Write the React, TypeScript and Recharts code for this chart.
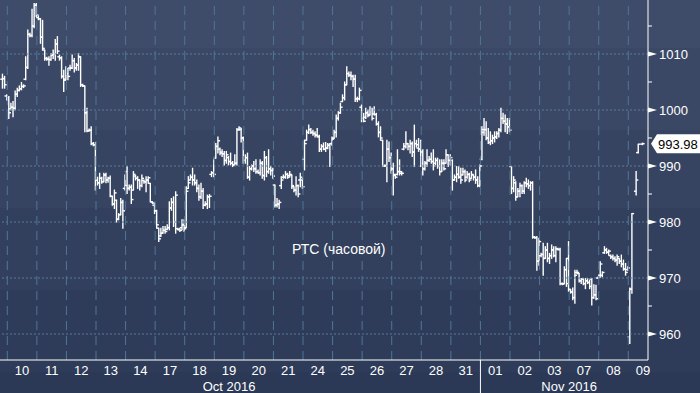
import { ComposedChart, Bar, XAxis, YAxis, ReferenceLine } from "recharts";

// trading days shown (first one is only the tail of Oct 7)
const days = ["07", "10", "11", "12", "13", "14", "17", "18", "19", "20", "21", "24", "25", "26", "27", "28", "31", "01", "02", "03", "07", "08", "09"];
const months = ["Oct 2016", "Nov 2016"];
const monthAnchors = [8.5, 20]; // in day units
const monthStartDay = 17; // Nov 01
const HOURS = 14;
// hour slots of the bars on the last (partial) day
const lastDaySlots = [0, 1, 3, 4, 6];

const priceTicks = [960, 965, 970, 975, 980, 985, 990, 995, 1000, 1005, 1010, 1015];
const gridPrices = [960, 970, 980, 990, 1000, 1010];

// hourly bars [open, high, low, close], one list per day
const sessionBars: number[][][] = [
  [[1005.5, 1006.4, 1003.9, 1005.6], [1005.6, 1006, 1003.9, 1004.5], [1002.5, 1002.7, 1001.8, 1002.2]],
  [[1001.8, 1002.4, 998.5, 999.5], [1000.2, 1001.2, 1000, 1000.5], [1000.5, 1001.5, 998.8, 1000.3], [1000.3, 1003.4, 1000, 1002.8], [1002.8, 1003.9, 1002.4, 1003.5], [1003.5, 1004.3, 1003.4, 1003.8], [1003.8, 1004.9, 1003.6, 1004.2], [1004.2, 1004.5, 1004, 1004.3], [1005.5, 1009.5, 1005.4, 1007.6], [1007.6, 1014.3, 1007.4, 1013.5], [1013.5, 1013.7, 1013.1, 1013.3], [1013.3, 1018, 1013.1, 1015], [1015, 1019, 1014.7, 1018.7], [1018.7, 1019, 1016.7, 1017]],
  [[1016.5, 1016.8, 1016.1, 1016.3], [1016.3, 1016.3, 1011.9, 1013], [1013, 1016, 1010.7, 1011], [1010.7, 1010.7, 1008.9, 1009.2], [1009.2, 1009.4, 1008.9, 1009.1], [1009.1, 1009.5, 1008, 1009], [1009, 1010.1, 1008.9, 1009.8], [1009.8, 1010.7, 1009.2, 1010], [1010, 1012.6, 1008.9, 1011.8], [1011.8, 1013.1, 1010.1, 1010.5], [1009.5, 1009.8, 1008.9, 1009.3], [1009.3, 1009.5, 1005.7, 1006], [1006, 1007.1, 1003.3, 1005.3], [1005.5, 1007.7, 1005.4, 1006.5]],
  [[1006.5, 1007.4, 1005.4, 1006], [1007.5, 1008, 1007.1, 1007.5], [1007.5, 1009.8, 1007.4, 1008.8], [1008.8, 1009.2, 1006.8, 1007.5], [1007.5, 1008.3, 1007.1, 1008], [1008, 1010.1, 1007.1, 1009.5], [1009.5, 1009.5, 1004.2, 1004.5], [1004.5, 1004.6, 1004.2, 1004.3], [1004.3, 1004.3, 996.1, 999.5], [999.5, 1000.3, 996.1, 996.3], [996.3, 996.6, 996.2, 996.4], [996.4, 997, 993.8, 994], [994, 994.2, 993.6, 993.8], [993.8, 994.2, 985.7, 987.5]],
  [[987.5, 988, 986.6, 987], [987, 988.7, 986, 987.8], [987.8, 988, 986.9, 987.2], [987.2, 988.7, 987.2, 988.4], [988.4, 988.7, 987, 987.5], [987.5, 988, 987.1, 987.8], [987.8, 988.2, 984.5, 984.6], [984.6, 984.6, 983, 983.2], [983.2, 985.7, 982.4, 985.2], [983.9, 983.9, 980, 980.5], [980.5, 981.5, 980.4, 981.3], [981.3, 984.2, 981.3, 983.5], [983.5, 983.9, 978.9, 982], [986, 988.4, 985.7, 986.5]],
  [[989, 989.9, 985.1, 986], [986, 986.6, 985.7, 986.2], [986.2, 986.6, 983.3, 984], [985.7, 989, 985.7, 988.5], [988.2, 988.3, 987.5, 987.8], [987.8, 988.1, 986, 987.5], [987.5, 987.5, 985.7, 986.5], [986.5, 988.4, 986.3, 987.8], [987.4, 987.5, 986.9, 987.2], [987.2, 988.1, 985.4, 987.5], [987.5, 988.1, 986.9, 987.9], [986.9, 986.9, 983.6, 983.6], [983.6, 983.6, 983.3, 983.4], [983, 983.3, 981.5, 982]],
  [[982, 982.1, 978.9, 979.5], [978.9, 978.9, 976.5, 977], [977.5, 978.9, 977.4, 978], [978, 979.2, 978, 978.5], [978.5, 979.2, 978, 978.3], [978.7, 979.5, 978.6, 979], [979, 983.6, 978.6, 982.5], [982.5, 984.2, 982.1, 983.5], [983.5, 984.5, 979.2, 980], [980, 985.4, 978, 984.8], [978.8, 978.9, 978.6, 978.7], [978.6, 978.9, 978.3, 978.5], [979, 980.4, 978.6, 979.5], [979.5, 980.4, 978.3, 978.8]],
  [[979, 986.3, 979, 985.5], [986, 988.1, 986, 987], [987.5, 988.4, 987.5, 988], [988, 989.6, 986.6, 987.5], [987.5, 988.4, 986.6, 987], [987, 987.5, 985.4, 986], [986, 986.6, 983.9, 984.5], [984.5, 986.9, 984.2, 985.5], [985.5, 986, 982.4, 983], [983, 983.6, 982.9, 983.2], [983.2, 984.8, 982.4, 984.5], [984.5, 984.9, 982.6, 984.6], [988.5, 989, 988.1, 988.8], [988.8, 991.1, 988.1, 988.5]],
  [[991.4, 994, 991.4, 993.5], [993.5, 995.2, 992.3, 994.5], [993, 993.2, 992, 992.3], [992.5, 992.9, 991.7, 992.2], [992.2, 992.6, 990.2, 991], [991, 992.6, 990.5, 992], [991.5, 991.7, 990.2, 990.8], [990.8, 992.3, 990.2, 990.5], [990.5, 990.8, 989.9, 990.2], [990.2, 992, 990.2, 990.5], [990.5, 996.7, 990.2, 996.5], [996.5, 997, 996.4, 996.8], [996.5, 996.7, 994.3, 995], [995, 995.2, 990.5, 991]],
  [[991, 992, 990.5, 991.5], [991.5, 992.3, 987.8, 988], [988, 989.9, 987.5, 989.5], [989.5, 990.2, 989.3, 990], [990, 990.8, 989, 989.5], [989.5, 991.1, 988.7, 989], [989, 989.3, 988.7, 988.8], [988.8, 991.1, 988.4, 990.5], [990.5, 990.8, 987.8, 988.3], [988.3, 992.6, 987.5, 991.5], [991.5, 991.7, 988.1, 989], [989, 992.9, 988.7, 989.5], [989.5, 989.9, 988.4, 989.2], [989.2, 989.6, 987.8, 988.2]],
  [[986.6, 986.6, 982.7, 983], [983, 984.2, 982.7, 983.2], [983.2, 983.9, 982.4, 983.5], [986.5, 988.1, 986, 987.5], [988, 988.4, 987.8, 988], [988, 989, 987.8, 988.5], [988.5, 988.7, 987.8, 988], [988.3, 989, 988.1, 988.5], [988.4, 988.4, 986, 986.5], [986.3, 986.3, 985.4, 985.7], [985.7, 988.1, 984.8, 986.5], [986.5, 986.6, 984.5, 985], [987.5, 988.7, 986.3, 988], [987.5, 987.8, 986, 986.3]],
  [[991.2, 994.6, 989.3, 994], [994.6, 996.4, 994.6, 996], [996, 997.3, 995.8, 996.5], [996.5, 996.7, 995.8, 996], [996, 996.4, 995.5, 995.8], [995.8, 996.1, 995.2, 995.5], [995.5, 996.7, 995.2, 995.3], [995.2, 995.5, 992.6, 993], [993, 993.8, 992.6, 993.5], [993.5, 994.1, 992.9, 993], [993, 994.2, 992.6, 993.2], [993.2, 994, 993.1, 993.7], [993.7, 994, 989.9, 994], [994, 995.2, 993.7, 994.8]],
  [[995, 996.4, 994.9, 996], [996, 999.1, 995.2, 998.5], [998.5, 999.7, 998.2, 999.5], [999.5, 1001.2, 999.4, 1000.5], [1001.5, 1002.7, 1001.5, 1002.2], [1002.2, 1005, 1001.8, 1004.5], [1004.5, 1007.7, 1004.5, 1006.5], [1006.5, 1006.8, 1006, 1006.2], [1006.2, 1006.8, 1005.4, 1006], [1006, 1006.2, 1004.2, 1005.5], [1005.5, 1006.2, 1001.5, 1002], [1002, 1002.3, 1001.5, 1002], [1002, 1003.9, 1001.8, 1003.5], [1000.5, 1000.9, 997.9, 998.5]],
  [[998.5, 999.4, 997.9, 998], [998.7, 1000.3, 998.5, 999.5], [999.5, 1000, 998.8, 999], [999.2, 1000.6, 999.1, 1000], [1000, 1000.3, 998.2, 998.5], [999.3, 1000.6, 999.1, 999.2], [999.2, 999.4, 997.3, 997.5], [997.5, 997.9, 995.2, 996], [996, 997, 994.6, 995], [994.6, 994.6, 989.9, 990], [990, 990.2, 989.9, 990.1], [990, 994.6, 987.2, 993], [993, 994.3, 990.8, 991.5], [991.5, 992.3, 988.7, 989.5]],
  [[989.5, 990.5, 984.8, 988.5], [988.3, 988.4, 987.8, 988], [988.5, 992.9, 988.4, 989], [989, 991.1, 988.4, 988.7], [989, 989, 988.4, 988.7], [993, 994, 992.9, 993.5], [993.5, 996.1, 993.2, 994], [994, 994, 992.9, 993.5], [993.5, 994.6, 992.3, 994], [994, 994.3, 991.7, 992.5], [992.5, 997.3, 989.9, 994], [994, 994.6, 993.4, 993.8], [993.2, 994.9, 992.6, 993], [993, 994.6, 989.9, 990.5]],
  [[992.5, 992.9, 988.4, 989.5], [989.5, 990.8, 989.3, 990.5], [990.5, 992.9, 989.9, 991], [991, 991.7, 990.8, 991.2], [991.2, 992.3, 990.5, 990.8], [990.8, 992.9, 989.3, 990], [990.5, 991.4, 990.2, 991], [991, 991.4, 989.6, 990], [990, 991.1, 988.4, 989], [989, 991.1, 989, 990.5], [990.5, 991.1, 989.3, 989.5], [990.5, 992.9, 990.5, 992], [992, 992, 989.9, 991], [991, 992, 990.2, 991.5]],
  [[991, 991.1, 985.7, 987.5], [987.5, 988.4, 987.5, 988], [988, 989.9, 987.2, 988.5], [988.5, 989.9, 987.8, 988], [988, 989.6, 986.9, 987.5], [988.4, 989.6, 988.4, 989], [989, 989.3, 987.2, 987.5], [988, 989, 987.8, 988.5], [988.5, 988.7, 987.2, 987.5], [987.8, 989, 987.8, 988.5], [988.4, 988.4, 987.5, 988], [988, 989.3, 986.9, 987.5], [987.5, 988.1, 986.3, 986.5], [986.5, 990.2, 986.3, 990]],
  [[991.2, 997, 991.1, 996], [996.5, 998.5, 995.5, 996.5], [996.5, 997.9, 994.7, 995], [995, 996.7, 994, 994.2], [994.2, 996.1, 993.8, 994.5], [994.5, 995.5, 994, 995], [995, 996.1, 994.3, 995.2], [995.2, 996.1, 994.9, 995.8], [995.8, 996.7, 995.2, 996.4], [996.4, 1000.3, 996.1, 998.5], [998.5, 999.4, 997.6, 998], [998, 999.1, 996.1, 997.5], [997.5, 998.5, 995.8, 997], [997, 998.5, 996.1, 996.4]],
  [[989.9, 989.9, 985.1, 986], [986, 988.1, 985.4, 987.5], [987, 987.2, 983.9, 984.5], [984.5, 986, 984.5, 985.5], [985.5, 986.9, 984.5, 986.5], [986.5, 986.6, 985.1, 985.5], [985.5, 987.2, 985.1, 987], [987, 987.8, 986.3, 986.8], [986.8, 987.5, 986, 986.5], [986.5, 987.2, 985.7, 987], [987, 987.2, 977.1, 977.3], [977.3, 977.4, 977.1, 977.2], [977.2, 977.4, 971.4, 973], [973, 977.1, 972.3, 976.5]],
  [[974, 974.4, 973.8, 974.2], [974.2, 976.2, 970.5, 973.5], [973.5, 975.6, 973.5, 975], [975, 976.2, 972.9, 973.5], [973.5, 974.4, 972.6, 974], [974, 975.9, 973.5, 975], [975, 975.6, 973.8, 974], [974, 975.6, 972.9, 975.2], [975.2, 975.3, 975, 975.1], [975.1, 975.3, 968.8, 969], [969, 969.1, 968.8, 968.9], [969, 972, 969, 971.5], [971.5, 973.5, 968.5, 969], [973.5, 976.5, 967.6, 968]],
  [[967.9, 967.9, 967.3, 967.5], [967.5, 968.2, 966.1, 966.5], [966.5, 971.4, 965.5, 970.5], [971, 971.4, 970.8, 971], [970.8, 970.8, 969.3, 969.5], [969.5, 969.9, 969, 969.8], [969.8, 969.9, 968.8, 969], [969, 969.9, 968.1, 969.5], [969.5, 969.9, 969, 969.2], [969.2, 969.6, 968.1, 968.5], [969.8, 969.9, 965.2, 966.5], [966.5, 968.8, 966.4, 967], [967, 968.7, 966.1, 966.3], [970, 970.2, 969.9, 970.1]],
  [[970.5, 972.9, 970.2, 972.5], [970.5, 971.1, 970.2, 971], [974.5, 975.6, 974.4, 975], [975, 975.3, 974.4, 974.6], [974.6, 975, 974.1, 974.8], [974, 974.1, 973.5, 973.8], [973.8, 974.1, 973.2, 973.5], [973.5, 973.8, 972.9, 973.2], [973.2, 974.1, 972.3, 973.8], [973.5, 973.5, 972.6, 973], [973, 974.1, 972, 972.5], [972.5, 973.2, 971.4, 971.6], [971.6, 972.6, 970.5, 971], [971.5, 972, 971.4, 971.8]],
  [[959.5, 968.2, 958.3, 968], [968, 981.5, 967.3, 981.5], [985.5, 989, 984.8, 987.5], [992.4, 993.9, 992.3, 993.9], [993.9, 994.1, 993.8, 993.98]],
];

const FONT = "'Liberation Sans', Arial, sans-serif";
const lastDay = sessionBars.length - 1;

const rows: any[] = [];
sessionBars.forEach((bars, d) => {
  const start = d === 0 ? HOURS - bars.length : 0;
  bars.forEach(([o, h, l, c], k) => {
    const slot = d === lastDay ? lastDaySlots[k] : start + k;
    rows.push({ t: d * HOURS + slot, o, h, l, c, range: [Math.min(l, o, c), Math.max(h, o, c)] });
  });
});
const lastClose = rows[rows.length - 1].c;

// x-axis tick info: day labels at day centres, month labels, month separator
const xInfo = new Map<number, { day?: string; month?: string; sep?: boolean }>();
days.forEach((label, d) => {
  if (d === 0) return;
  xInfo.set(d * HOURS + 6.5, { day: label });
});
months.forEach((m, i) => {
  const v = monthAnchors[i] * HOURS - 0.5;
  xInfo.set(v, { ...(xInfo.get(v) || {}), month: m });
});
xInfo.set(monthStartDay * HOURS - 0.5, { sep: true });
const xTicks = Array.from(xInfo.keys()).sort((a, b) => a - b);
const dayBounds = days.slice(1).map((_, i) => (i + 1) * HOURS - 0.5);

const OhlcShape = (props: any) => {
  const { x, y, width, height, payload } = props;
  if (x == null || !payload) return null;
  const [lo, hi] = payload.range;
  const cx = x + width / 2;
  const toY = (v: number) => (hi === lo ? y : y + ((hi - v) / (hi - lo)) * height);
  const yo = toY(payload.o);
  const yc = toY(payload.c);
  return (
    <g stroke="#ffffff" strokeWidth={1.4}>
      <line x1={cx} x2={cx} y1={y - 0.5} y2={y + height + 0.5} />
      <line x1={cx - 2.2} x2={cx} y1={yo} y2={yo} />
      <line x1={cx} x2={cx + 2.2} y1={yc} y2={yc} />
    </g>
  );
};

const YTick = (props: any) => {
  const { x, y, payload } = props;
  const v = payload.value;
  if (v % 10 !== 0) {
    return <line x1={x} x2={x + 4} y1={y} y2={y} stroke="#ffffff" />;
  }
  return (
    <g>
      <polygon points={`${x},${y - 2.5} ${x + 9},${y} ${x},${y + 2.5}`} fill="#ffffff" />
      <text x={x + 11} y={y + 5} fill="#ffffff" fontSize={13} fontFamily={FONT}>
        {v}
      </text>
    </g>
  );
};

const XTick = (props: any) => {
  const { x, y, payload } = props;
  const info = xInfo.get(payload.value);
  if (!info) return null;
  return (
    <g>
      {info.sep && <line x1={x} x2={x} y1={y} y2={y + 33} stroke="#ffffff" />}
      {info.day && (
        <text x={x} y={y + 15} textAnchor="middle" fill="#ffffff" fontSize={13} fontFamily={FONT}>
          {info.day}
        </text>
      )}
      {info.month && (
        <text x={x} y={y + 30.5} textAnchor="middle" fill="#ffffff" fontSize={13} fontFamily={FONT}>
          {info.month}
        </text>
      )}
    </g>
  );
};

const PriceTag = (props: any) => {
  const { viewBox } = props;
  if (!viewBox) return null;
  const x0 = viewBox.x + viewBox.width + 3;
  const y = viewBox.y;
  return (
    <g>
      <polygon
        points={`${x0},${y} ${x0 + 6},${y - 9.5} ${700},${y - 9.5} ${700},${y + 9.5} ${x0 + 6},${y + 9.5}`}
        fill="#ffffff"
      />
      <text x={x0 + 7} y={y + 5} fill="#000000" fontSize={13} fontFamily={FONT}>
        {lastClose.toFixed(2)}
      </text>
    </g>
  );
};

const BG =
  "linear-gradient(180deg, #3e4b69 0px, #3e4b69 48px, #3a4866 48px, #3a4866 130px, #364461 130px, #364461 208px, #32405d 208px, #32405d 290px, #2e3c59 290px, #2e3c59 372px, #2b3956 372px)";

export default function App() {
  return (
    <div style={{ position: "fixed", left: 0, top: 0, width: 700, height: 393, background: BG, fontFamily: FONT }}>
      <ComposedChart width={700} height={393} data={rows} margin={{ top: 0, right: 0, bottom: 0, left: 0 }}>
        <XAxis
          dataKey="t"
          type="number"
          domain={[10.044, 316.83]}
          allowDataOverflow
          ticks={xTicks}
          interval={0}
          height={33}
          tickSize={0}
          tickMargin={0}
          tickLine={false}
          axisLine={{ stroke: "#ffffff" }}
          tick={<XTick />}
        />
        <YAxis
          orientation="right"
          type="number"
          width={52}
          domain={[955.36, 1019.64]}
          allowDataOverflow
          ticks={priceTicks}
          interval={0}
          tickSize={0}
          tickMargin={0}
          tickLine={false}
          axisLine={{ stroke: "#ffffff" }}
          tick={<YTick />}
        />
        {gridPrices.map((p) => (
          <ReferenceLine key={"h" + p} y={p} stroke="#5a7b98" strokeDasharray="2 2" />
        ))}
        {dayBounds.map((b) => (
          <ReferenceLine key={"v" + b} x={b} stroke="#4f7696" strokeDasharray="9 6" />
        ))}
        <Bar dataKey="range" barSize={1} isAnimationActive={false} shape={<OhlcShape />} />
        <ReferenceLine y={lastClose} stroke="none" strokeOpacity={0} label={<PriceTag />} />
      </ComposedChart>
      <div style={{ position: "absolute", left: 292, top: 241, color: "#ffffff", fontSize: 14, whiteSpace: "nowrap" }}>
        РТС (часовой)
      </div>
    </div>
  );
}
